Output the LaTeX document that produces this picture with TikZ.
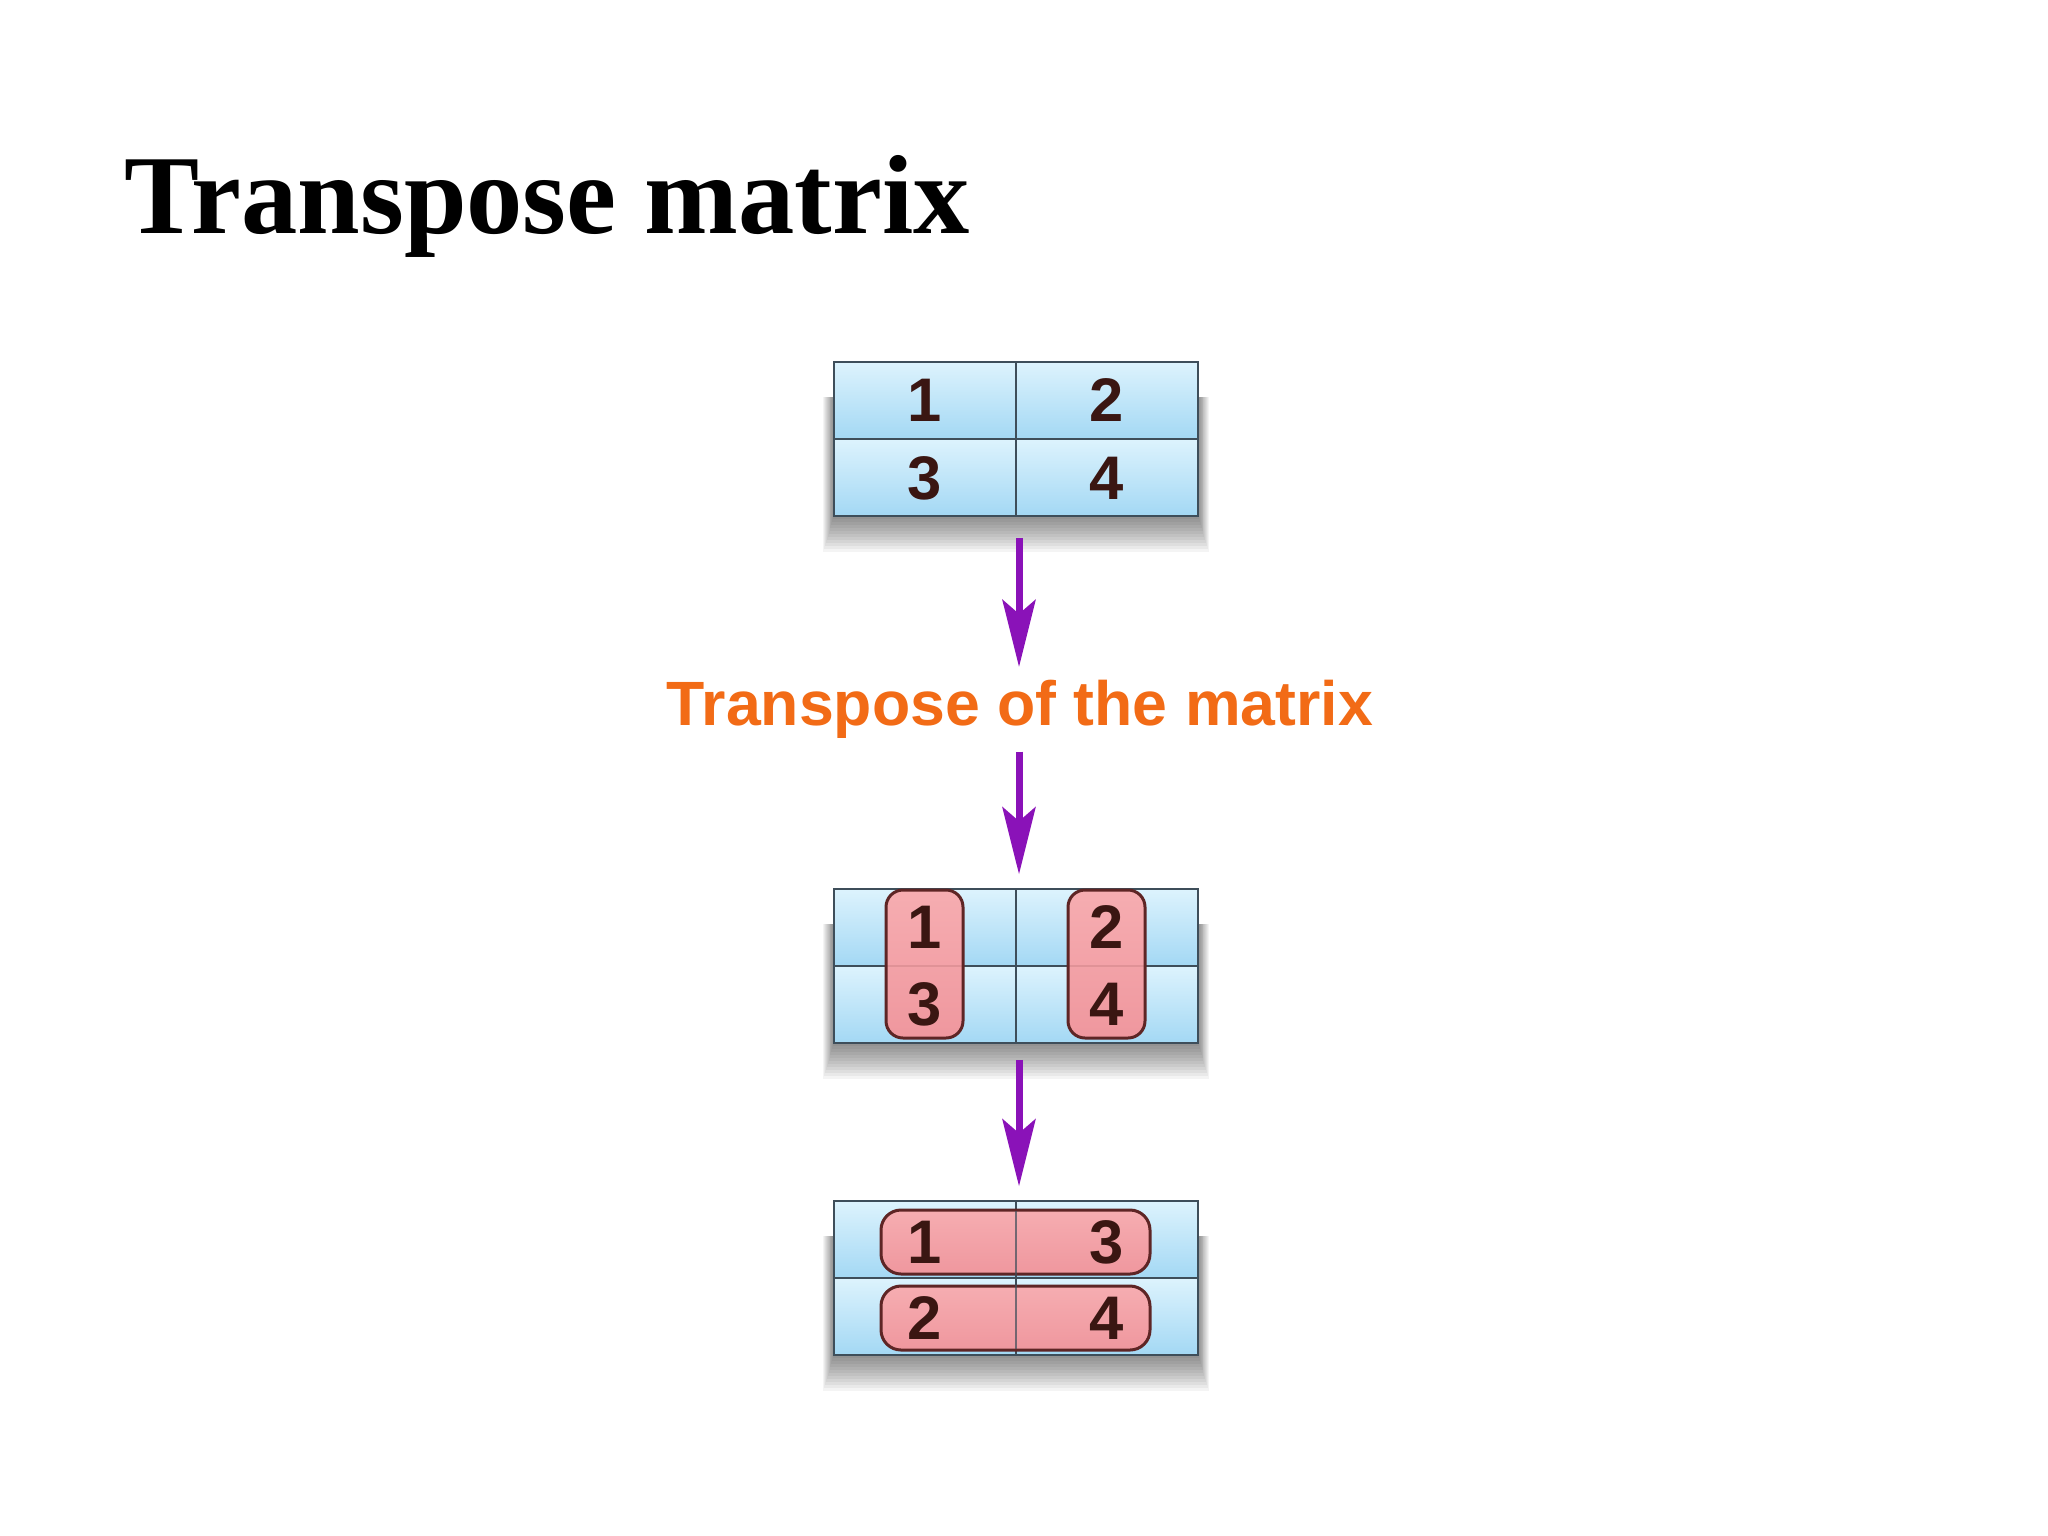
\documentclass[tikz,border=0pt]{standalone}
\usepackage{fontspec}
\setmainfont{Liberation Serif}
\newfontfamily\sansb{Liberation Sans}
\usetikzlibrary{arrows.meta}
\definecolor{gridc}{HTML}{3E4E5A}
\definecolor{celltop}{HTML}{DDF3FD}
\definecolor{cellbot}{HTML}{A3D8F4}
\definecolor{pinktop}{HTML}{F6ADB1}
\definecolor{pinkbot}{HTML}{EF979E}
\definecolor{pinkd}{HTML}{5E2525}
\definecolor{digitc}{HTML}{3A1612}
\definecolor{purp}{HTML}{8A12B8}
\definecolor{orng}{HTML}{F26B16}
\newcommand\boxshadow[4]{%
  \foreach \i in {1,...,12}{\fill[black,opacity=0.045] ({#1-\i*0.9},{#2+35}) rectangle ({#3+\i*0.9},{#4+\i*3});}}
\newcommand\cellrows[3]{% x0, ytop, x1 (rows of 77)
  \shade[top color=celltop, bottom color=cellbot] (#1,#2) rectangle (#3,{#2+77});
  \shade[top color=celltop, bottom color=cellbot] (#1,{#2+77}) rectangle (#3,{#2+154});}
\newcommand\gridlines[3]{%
  \draw[gridc, line width=0.022cm] (#1,#2) rectangle (#3,{#2+154});
  \draw[gridc, line width=0.02cm] (#1,{#2+77}) -- (#3,{#2+77});
  \draw[gridc, line width=0.02cm] ({(#1+#3)/2},#2) -- ({(#1+#3)/2},{#2+154});}
\tikzset{
  arr/.style={purp, line width=0.07cm, -{Stealth[length=0.67cm, width=0.33cm, inset=0.14cm]}},
  dig/.style={font=\sansb\bfseries\fontsize{17.5}{17.5}\selectfont, text=digitc, inner sep=0pt},
  pinkbox/.style={draw=pinkd, line width=0.03cm, top color=pinktop, bottom color=pinkbot},
  mat/.style={inner sep=0pt, minimum width=3.64cm, minimum height=1.54cm}
}
\begin{document}
\begin{tikzpicture}[x=0.01cm, y=-0.01cm]
\useasboundingbox (0,0) rectangle (2048,1536);
\fill[white] (0,0) rectangle (2048,1536);

% title
\node[anchor=base west, inner sep=0pt, font=\bfseries\fontsize{32}{32}\selectfont] (title) at (124,233) {Transpose matrix};

% ---------- matrix 1
\boxshadow{834}{362}{1198}{516}
\cellrows{834}{362}{1198}
\gridlines{834}{362}{1198}
\node[mat] (m1) at (1016,439) {};
\node[dig] (m1a) at (925,400) {1};
\node[dig] (m1b) at (1107,400) {2};
\node[dig] (m1c) at (925,478) {3};
\node[dig] (m1d) at (1107,478) {4};

% label
\node[anchor=base, inner sep=0pt, font=\sansb\bfseries\fontsize{17.8}{18}\selectfont, text=orng] (lbl) at (1020,725) {Transpose of the matrix};

% ---------- matrix 2
\boxshadow{834}{889}{1198}{1043}
\cellrows{834}{889}{1198}
\gridlines{834}{889}{1198}
\node[mat] (m2) at (1016,966) {};
\path[pinkbox, rounded corners=0.17cm] (886,890) rectangle (963,1038);
\path[pinkbox, rounded corners=0.17cm] (1068,890) rectangle (1145,1038);
\draw[pinkd, opacity=0.12, line width=0.02cm] (887,966) -- (962,966);
\draw[pinkd, opacity=0.12, line width=0.02cm] (1069,966) -- (1144,966);
\node[dig] (m2a) at (925,927) {1};
\node[dig] (m2b) at (1107,927) {2};
\node[dig] (m2c) at (925,1004) {3};
\node[dig] (m2d) at (1107,1004) {4};

% ---------- matrix 3
\boxshadow{834}{1201}{1198}{1355}
\cellrows{834}{1201}{1198}
\gridlines{834}{1201}{1198}
\node[mat] (m3) at (1016,1278) {};
\path[pinkbox, rounded corners=0.2cm] (881,1210) rectangle (1150,1274);
\path[pinkbox, rounded corners=0.2cm] (881,1286) rectangle (1150,1350);
\draw[gridc, opacity=0.7, line width=0.012cm] (1016,1211) -- (1016,1349);
\node[dig] (m3a) at (925,1242) {1};
\node[dig] (m3b) at (1107,1242) {3};
\node[dig] (m3c) at (925,1318) {2};
\node[dig] (m3d) at (1107,1318) {4};

% arrows
\coordinate (ax) at (1019,0);
\draw[arr] ([yshift=-0.21cm]m1.south -| ax) -- ([yshift=0.12cm]lbl.north -| ax);
\draw[arr] ([yshift=-0.13cm]lbl.south -| ax) -- ([yshift=0.14cm]m2.north -| ax);
\draw[arr] ([yshift=-0.16cm]m2.south -| ax) -- ([yshift=0.14cm]m3.north -| ax);
\end{tikzpicture}
\end{document}
